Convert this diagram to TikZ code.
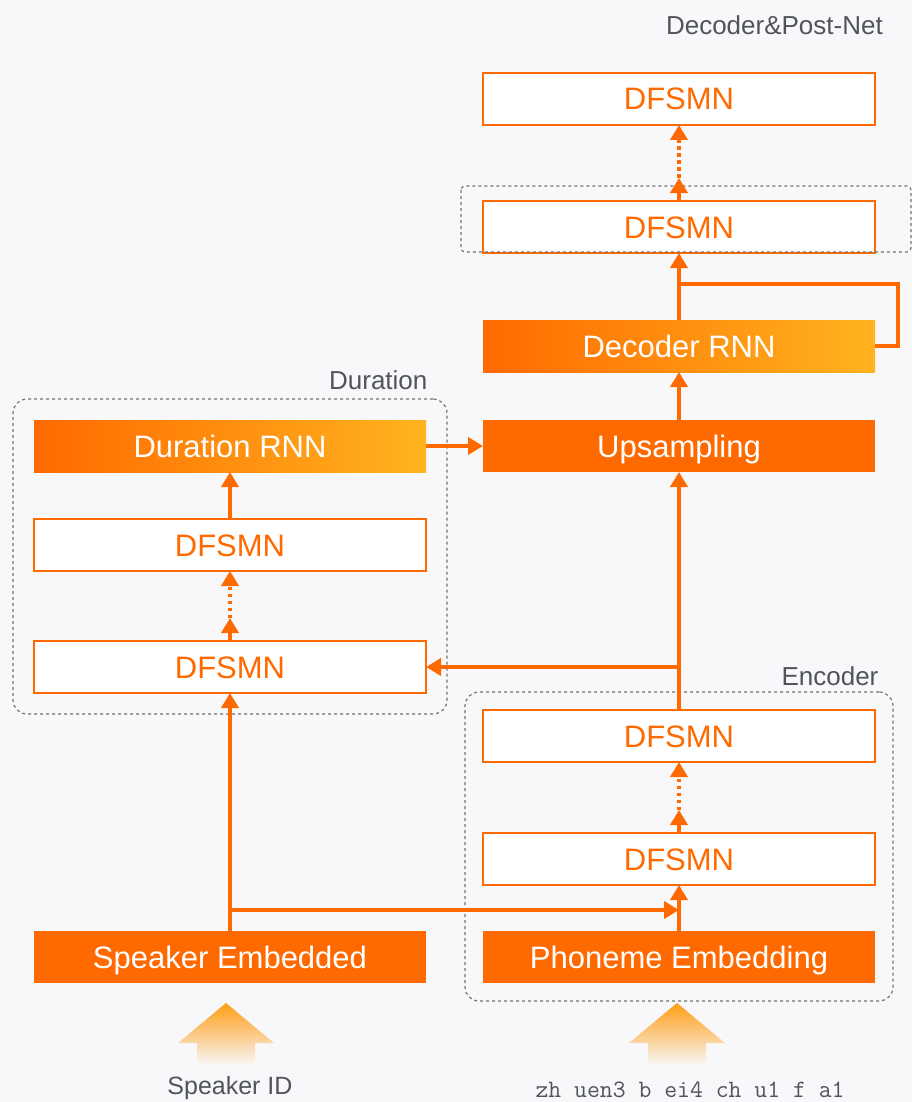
\documentclass[tikz,border=0pt]{standalone}
\usepackage{fontspec}
\setmainfont{Liberation Sans}
\usepackage{tikz}
\usetikzlibrary{positioning,arrows.meta,shapes,fit,calc}
\usepackage{xcolor}
\definecolor{ali}{HTML}{FF6A00}
\definecolor{aliyel}{HTML}{FFB31E}
\definecolor{labgray}{HTML}{50555C}
\definecolor{bggray}{HTML}{F8F8FA}

\begin{document}
\begin{tikzpicture}[
    x = 1pt, y = -1pt,
    > = {Triangle[length=15pt,width=17pt]},
    font = \fontsize{31}{35}\selectfont,
    layer/.style={rectangle, draw=ali, line width=2.5pt, fill=white, text=ali,
        minimum width=392pt, minimum height=52pt, inner sep=0pt, outer sep=0pt,
        text height=22pt, text depth=0pt},
    embed/.style={layer, draw=none, fill=ali, text=white},
    rnn/.style={layer, draw=none, left color=ali, right color=aliyel, text=white},
    flow/.style={draw=ali, line width=4.5pt},
    dots/.style={flow, dash pattern=on 3.5pt off 3.5pt},
    group/.style={draw=black!55, dashed, line width=1.2pt, rounded corners=14pt, inner sep=19pt},
    grouplabel/.style={text=labgray, font=\fontsize{26}{30}\selectfont, anchor=east, inner sep=0pt}
]
    \useasboundingbox (0,0) rectangle (912,1102);
    \fill[bggray] (0,0) rectangle (912,1102);

    % encoder / decoder column
    \node[embed] (phon) at (679,957) {Phoneme Embedding};
    \node[layer, above=46pt of phon] (enc1) {DFSMN};
    \node[layer, above=71pt of enc1] (enc2) {DFSMN};
    \node[embed, above=238pt of enc2] (ups) {Upsampling};
    \node[rnn, above=48pt of ups] (decrnn) {Decoder RNN};
    \node[layer, above=67pt of decrnn] (dec1) {DFSMN};
    \node[layer, above=76pt of dec1] (dec2) {DFSMN};

    % duration column
    \node[rnn, left=57pt of ups] (durrnn) {Duration RNN};
    \node[layer, below=47pt of durrnn] (dur2) {DFSMN};
    \node[layer, below=70pt of dur2] (dur1) {DFSMN};
    \node[embed, left=57pt of phon] (spk) {Speaker Embedded};

    % groups
    \node[group, fit=(durrnn)(dur1), inner sep=21pt] (durbox) {};
    \node[group, fit=(enc2)(phon), inner sep=18pt] (encbox) {};
    \draw[group, rounded corners=4pt] ($(dec1.north west)+(-22,-15)$) rectangle ($(dec1.south east)+(36,-1)$);
    \node[grouplabel] (durlabel) at ($(durbox.north east)+(-20,-18)$) {Duration};
    \node[grouplabel] (enclabel) at ($(encbox.north east)+(-15,-15)$) {Encoder};
    \node[grouplabel] (declabel) at ($(dec2.north east)+(8,-48)$) {Decoder\&Post-Net};

    % inputs
    \shade[top color=aliyel!70!ali, bottom color=bggray]
        (226,1003) -- (274,1043) -- (255,1043) -- (255,1066) -- (197,1066) -- (197,1043) -- (178,1043) -- cycle;
    \shade[top color=aliyel!70!ali, bottom color=bggray]
        (677,1003) -- (725,1043) -- (706,1043) -- (706,1066) -- (648,1066) -- (648,1043) -- (629,1043) -- cycle;
    \node[text=labgray, font=\fontsize{25}{28}\selectfont] (spkid) at (230,1088) {Speaker ID};
    \node[text=labgray, font=\ttfamily\fontsize{25}{28}\selectfont] (phonseq) at (690,1090) {zh uen3 b ei4 ch u1 f a1};

    % connections
    \draw[flow, ->] (phon) -- (enc1);
    \draw[flow, ->] (enc2) -- (ups);
    \draw[flow, ->] (ups) -- (decrnn);
    \draw[flow, ->] (decrnn) -- (dec1);
    \draw[flow, ->] (durrnn) -- (ups);
    \draw[flow, ->] (dur2) -- (durrnn);
    \draw[flow, ->] (spk) -- (dur1);
    \draw[flow, ->] (enc1.north) -- ++(0,-23) coordinate (enc1m);
    \draw[dots, ->] (enc1m) -- (enc2.south);
    \draw[flow, ->] (dur1.north) -- ++(0,-23) coordinate (dur1m);
    \draw[dots, ->] (dur1m) -- (dur2.south);
    \draw[flow, ->] (dec1.north) -- ++(0,-23) coordinate (dec1m);
    \draw[dots, ->] (dec1m) -- (dec2.south);
    \draw[flow, ->] (enc2.north |- dur1.east) -- (dur1.east);
    \coordinate (spkjoin) at ($(spk.north)+(0,-21)$);
    \draw[flow, ->] (spkjoin) -- (spkjoin -| phon.north);
    \coordinate (loop) at ($(decrnn.north)+(0,-36)$);
    \draw[flow] (decrnn.east) -- ++(23,0) |- (loop);
\end{tikzpicture}
\end{document}
